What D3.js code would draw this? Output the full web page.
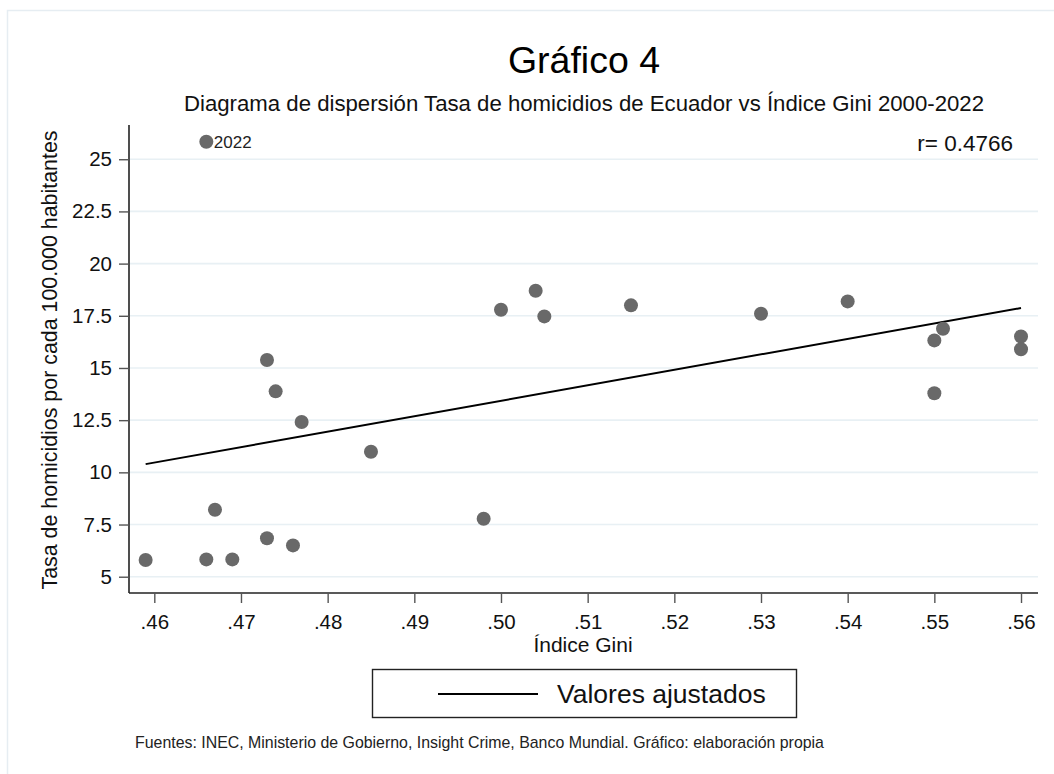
<!DOCTYPE html>
<html>
<head>
<meta charset="utf-8">
<script src="https://cdn.jsdelivr.net/npm/d3@7"></script>
<style>
  html, body { margin: 0; padding: 0; background: #fff; }
  svg { display: block; font-family: "Liberation Sans", Arial, sans-serif; }
</style>
</head>
<body>
<svg id="chart" width="1054" height="774"></svg>
<script>
// ---- Data ----
const gini = [0.459, 0.466, 0.469, 0.467, 0.473, 0.476, 0.485, 0.498, 0.474, 0.477, 0.473, 0.466,
              0.500, 0.504, 0.505, 0.515, 0.530, 0.540, 0.550, 0.551, 0.550, 0.560, 0.560];
const homicidios = [5.80, 5.83, 5.83, 8.21, 6.84, 6.50, 10.99, 7.78, 13.88, 12.41, 15.38, 25.84,
                    17.79, 18.70, 17.47, 18.00, 17.60, 18.19, 16.32, 16.88, 13.79, 16.51, 15.90];
const pointLabels = ["", "", "", "", "", "", "", "", "", "", "", "2022",
                     "", "", "", "", "", "", "", "", "", "", ""];
const xTicks = [0.46, 0.47, 0.48, 0.49, 0.50, 0.51, 0.52, 0.53, 0.54, 0.55, 0.56];
const yTicks = [5, 7.5, 10, 12.5, 15, 17.5, 20, 22.5, 25];
const title = "Gráfico 4";
const subtitle = "Diagrama de dispersión Tasa de homicidios de Ecuador vs Índice Gini 2000-2022";
const xTitle = "Índice Gini";
const yTitle = "Tasa de homicidios por cada 100.000 habitantes";
const rText = "r= 0.4766";
const legendText = "Valores ajustados";
const source = "Fuentes: INEC, Ministerio de Gobierno, Insight Crime, Banco Mundial. Gráfico: elaboración propia";

// ---- Layout ----
const svg = d3.select("#chart");
const plot = { left: 129, right: 1038, top: 125, bottom: 593 };

// outer frame
svg.append("rect").attr("x", 7.5).attr("y", 10.5).attr("width", 1060).attr("height", 780)
  .attr("fill", "#fff").attr("stroke", "#e6edf2").attr("stroke-width", 1.5);

const x = d3.scaleLinear().domain([0.45708, 0.56196]).range([plot.left, plot.right]);
const y = d3.scaleLinear().domain([4.22, 26.64]).range([plot.bottom, plot.top]);

// gridlines
svg.append("g").selectAll("line").data(yTicks).join("line")
  .attr("x1", plot.left + 1).attr("x2", plot.right)
  .attr("y1", d => y(d)).attr("y2", d => y(d))
  .attr("stroke", "#e8f0f4").attr("stroke-width", 1.6);

// axes
const fmtX = d => d3.format(".2f")(d).replace(/^0/, "");
const xAxis = svg.append("g").attr("transform", `translate(0,${plot.bottom})`)
  .call(d3.axisBottom(x).tickValues(xTicks).tickFormat(fmtX).tickSize(10).tickPadding(11));
const yAxis = svg.append("g").attr("transform", `translate(${plot.left},0)`)
  .call(d3.axisLeft(y).tickValues(yTicks).tickFormat(d => String(d)).tickSize(10).tickPadding(7));
[xAxis, yAxis].forEach(a => {
  a.select(".domain").attr("stroke", "#222").attr("stroke-width", 1.6);
  a.selectAll(".tick line").attr("stroke", "#555").attr("stroke-width", 1.4);
  a.selectAll(".tick text").attr("fill", "#111").style("font-size", "20.5px")
    .style("font-family", "'Liberation Sans', Arial, sans-serif");
});
// extend domain lines to plot edges (no outer ticks)
xAxis.select(".domain").attr("d", `M${plot.left},0H${plot.right}`);
yAxis.select(".domain").attr("d", `M0,${plot.top}V${plot.bottom}`);

// fitted values (least squares from data)
const n = gini.length;
const mx = d3.mean(gini), my = d3.mean(homicidios);
let sxy = 0, sxx = 0;
for (let i = 0; i < n; i++) { sxy += (gini[i] - mx) * (homicidios[i] - my); sxx += (gini[i] - mx) ** 2; }
const slope = sxy / sxx, intercept = my - slope * mx;
const [gmin, gmax] = d3.extent(gini);
const fitted = [gmin, gmax].map(g => ({ g, v: intercept + slope * g }));
svg.append("path").datum(fitted)
  .attr("d", d3.line().x(d => x(d.g)).y(d => y(d.v)))
  .attr("fill", "none").attr("stroke", "#000").attr("stroke-width", 2);

// points
const pts = gini.map((g, i) => ({ g, v: homicidios[i], label: pointLabels[i] }));
svg.append("g").selectAll("circle").data(pts).join("circle")
  .attr("cx", d => x(d.g)).attr("cy", d => y(d.v)).attr("r", 7)
  .attr("fill", "#696969");
svg.append("g").selectAll("text").data(pts.filter(d => d.label)).join("text")
  .attr("x", d => x(d.g) + 7.5).attr("y", d => y(d.v) + 6)
  .attr("font-size", 17).attr("fill", "#222").text(d => d.label);

// r text
svg.append("text").attr("x", 1013).attr("y", 151).attr("text-anchor", "end")
  .attr("font-size", 22.5).attr("fill", "#111").text(rText);

// titles
svg.append("text").attr("x", 584).attr("y", 73).attr("text-anchor", "middle")
  .attr("font-size", 37.5).attr("fill", "#000").text(title);
svg.append("text").attr("x", 584).attr("y", 111).attr("text-anchor", "middle")
  .attr("font-size", 22.2).attr("fill", "#111").text(subtitle);
svg.append("text").attr("x", 583).attr("y", 652).attr("text-anchor", "middle")
  .attr("font-size", 21).attr("fill", "#111").text(xTitle);
svg.append("text").attr("transform", "translate(57,360) rotate(-90)").attr("text-anchor", "middle")
  .attr("font-size", 21.4).attr("fill", "#111").text(yTitle);

// legend
svg.append("rect").attr("x", 372.5).attr("y", 669.5).attr("width", 424).attr("height", 48)
  .attr("fill", "#fff").attr("stroke", "#222").attr("stroke-width", 1.4);
svg.append("line").attr("x1", 438).attr("x2", 538).attr("y1", 694).attr("y2", 694)
  .attr("stroke", "#000").attr("stroke-width", 2);
svg.append("text").attr("x", 557).attr("y", 703).attr("font-size", 26.5).attr("fill", "#111").text(legendText);

// source
svg.append("text").attr("x", 135).attr("y", 748).attr("font-size", 15.9).attr("fill", "#222").text(source);
</script>
</body>
</html>
